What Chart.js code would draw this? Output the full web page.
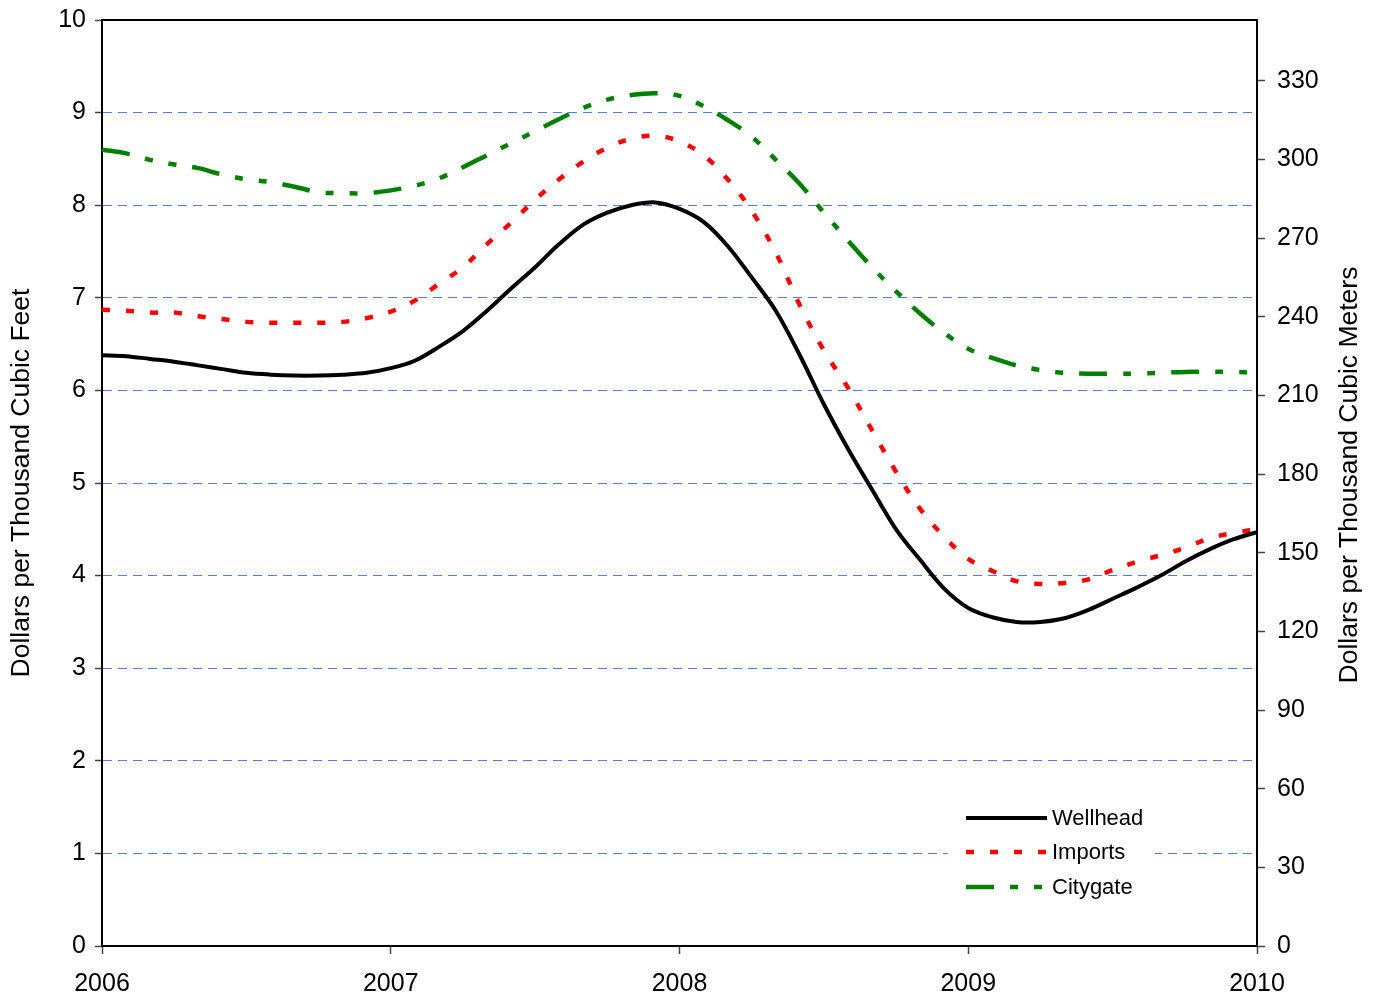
<!DOCTYPE html>
<html>
<head>
<meta charset="utf-8">
<title>Natural gas prices</title>
<script src="https://cdn.jsdelivr.net/npm/chart.js@4.4.1/dist/chart.umd.min.js"></script>
<style>
  html, body { margin: 0; padding: 0; background: #fff; }
  #wrap { width: 1380px; height: 999px; position: relative; }
</style>
</head>
<body>
<div id="wrap"><canvas id="chart"></canvas></div>
<script>
// monthly series, Jan 2006 .. Jan 2010 (dollars per thousand cubic feet)
const startYear = 2006;
const yearTicks = [2006, 2007, 2008, 2009, 2010];
const leftTicks = [0, 1, 2, 3, 4, 5, 6, 7, 8, 9, 10];
const rightTicks = [0, 30, 60, 90, 120, 150, 180, 210, 240, 270, 300, 330];
const seriesNames = ['Wellhead', 'Imports', 'Citygate'];

const wellhead = [
  6.38, 6.37, 6.34, 6.31, 6.27, 6.23, 6.19, 6.17, 6.16, 6.16, 6.17, 6.19,
  6.24, 6.32, 6.47, 6.64, 6.86, 7.10, 7.33, 7.58, 7.79, 7.92, 8.00, 8.03,
  7.96, 7.82, 7.56, 7.22, 6.86, 6.38, 5.85, 5.37, 4.93, 4.50, 4.17, 3.86,
  3.65, 3.55, 3.50, 3.50, 3.54, 3.63, 3.75, 3.87, 4.00, 4.15, 4.28, 4.39,
  4.47,
];
const imports = [
  6.87, 6.86, 6.84, 6.84, 6.80, 6.77, 6.74, 6.73, 6.73, 6.73, 6.74, 6.78,
  6.85, 6.97, 7.15, 7.33, 7.58, 7.81, 8.06, 8.28, 8.47, 8.62, 8.72, 8.75,
  8.69, 8.54, 8.28, 7.94, 7.49, 6.92, 6.43, 6.03, 5.57, 5.12, 4.72, 4.42,
  4.18, 4.05, 3.94, 3.91, 3.92, 3.96, 4.06, 4.15, 4.22, 4.30, 4.40, 4.46,
  4.50,
];
const citygate = [
  8.60, 8.56, 8.49, 8.44, 8.40, 8.33, 8.28, 8.25, 8.20, 8.14, 8.13, 8.13,
  8.16, 8.21, 8.29, 8.41, 8.54, 8.67, 8.80, 8.93, 9.05, 9.14, 9.19, 9.21,
  9.18, 9.07, 8.92, 8.74, 8.49, 8.23, 7.92, 7.62, 7.33, 7.07, 6.83, 6.62,
  6.45, 6.35, 6.27, 6.22, 6.19, 6.18, 6.18, 6.18, 6.19, 6.20, 6.20, 6.20,
  6.19,
];

const mcfPerTcm = 35.3147; // thousand cubic feet in a thousand cubic meters
const FONT = "'Liberation Sans', Arial, Helvetica, sans-serif";
const gridBlue = '#4f78ff';
const tickGray = '#444444';

const toPoints = (arr) => arr.map((v, i) => ({ x: startYear + i / 12, y: v }));

const datasets = [
  { label: seriesNames[0], data: toPoints(wellhead), borderColor: '#000000', borderWidth: 4, borderDash: [] },
  { label: seriesNames[1], data: toPoints(imports), borderColor: '#ff0000', borderWidth: 4.5, borderDash: [8, 16] },
  { label: seriesNames[2], data: toPoints(citygate), borderColor: '#008000', borderWidth: 4.5, borderDash: [28, 16, 8, 16, 8, 16] },
].map((d) => ({ ...d, yAxisID: 'y', pointRadius: 0, tension: 0.35, fill: false, borderCapStyle: 'butt' }));

// white legend box sitting inside the plot, lower right
const insideLegend = {
  id: 'insideLegend',
  afterDatasetsDraw(chart) {
    const { ctx } = chart;
    ctx.save();
    ctx.fillStyle = '#ffffff';
    ctx.fillRect(948, 798, 207, 106);
    const rows = [818, 852, 887];
    chart.data.datasets.forEach((ds, i) => {
      ctx.beginPath();
      ctx.setLineDash(ds.borderDash);
      ctx.lineWidth = ds.borderWidth;
      ctx.strokeStyle = ds.borderColor;
      ctx.lineCap = 'butt';
      ctx.moveTo(966, rows[i]);
      ctx.lineTo(1047, rows[i]);
      ctx.stroke();
      ctx.setLineDash([]);
      ctx.fillStyle = '#000000';
      ctx.font = `22px ${FONT}`;
      ctx.textAlign = 'left';
      ctx.textBaseline = 'middle';
      ctx.fillText(ds.label, 1052, rows[i] + 1);
    });
    ctx.restore();
  },
};

// top frame line and right-hand title (reads bottom to top like the left one)
const frameAndTitle = {
  id: 'frameAndTitle',
  afterDraw(chart) {
    const { ctx, chartArea: a } = chart;
    ctx.save();
    ctx.strokeStyle = '#000000';
    ctx.lineWidth = 2;
    ctx.beginPath();
    ctx.moveTo(a.left - 1, a.top);
    ctx.lineTo(a.right + 1, a.top);
    ctx.stroke();
    ctx.translate(1350, 475);
    ctx.rotate(-Math.PI / 2);
    ctx.fillStyle = '#000000';
    ctx.font = `26.5px ${FONT}`;
    ctx.textAlign = 'center';
    ctx.textBaseline = 'middle';
    ctx.fillText('Dollars per Thousand Cubic Meters', 0, 0);
    ctx.restore();
  },
};

const fitY = (width) => (s) => {
  s.width = width;
  s.paddingTop = 0;
  s.paddingBottom = 0;
};

new Chart(document.getElementById('chart'), {
  type: 'line',
  data: { datasets },
  options: {
    responsive: true,
    maintainAspectRatio: false,
    animation: false,
    layout: { padding: { top: 20, left: 0, right: 0, bottom: 0 } },
    plugins: {
      legend: { display: false },
      tooltip: { enabled: false },
    },
    scales: {
      x: {
        type: 'linear',
        min: 2006,
        max: 2010,
        afterBuildTicks: (s) => { s.ticks = yearTicks.map((v) => ({ value: v })); },
        afterFit: (s) => { s.height = 53; s.paddingLeft = 0; s.paddingRight = 0; },
        grid: { drawOnChartArea: false, tickLength: 8, tickColor: tickGray, tickWidth: 1.5 },
        border: { color: '#000000', width: 2 },
        ticks: {
          color: '#000000',
          padding: 15,
          maxRotation: 0,
          font: { family: FONT, size: 25 },
          callback: (v) => String(v),
        },
      },
      y: {
        position: 'left',
        min: 0,
        max: 10,
        afterBuildTicks: (s) => { s.ticks = leftTicks.map((v) => ({ value: v })); },
        afterFit: fitY(102),
        grid: {
          color: (c) => (c.tick && (c.tick.value === 0 || c.tick.value === 10) ? 'rgba(0,0,0,0)' : gridBlue),
          lineWidth: 1,
          tickLength: 7,
          tickColor: tickGray,
          tickWidth: 1.5,
          tickBorderDash: [],
        },
        border: { color: '#000000', width: 2, dash: [9, 6] },
        ticks: {
          color: '#000000',
          padding: 9,
          font: { family: FONT, size: 25 },
          callback: (v) => String(v),
        },
        title: {
          display: true,
          text: 'Dollars per Thousand Cubic Feet',
          color: '#000000',
          font: { family: FONT, size: 26.5 },
          padding: { top: 6, bottom: 0 },
        },
      },
      y2: {
        position: 'right',
        min: 0,
        max: 10 * mcfPerTcm,
        afterBuildTicks: (s) => { s.ticks = rightTicks.map((v) => ({ value: v })); },
        afterFit: fitY(123),
        grid: { drawOnChartArea: false, tickLength: 8, tickColor: tickGray, tickWidth: 1.5 },
        border: { color: '#000000', width: 2 },
        ticks: {
          color: '#000000',
          padding: 12,
          font: { family: FONT, size: 25 },
          callback: (v) => String(v),
        },
      },
    },
  },
  plugins: [insideLegend, frameAndTitle],
});
</script>
</body>
</html>
